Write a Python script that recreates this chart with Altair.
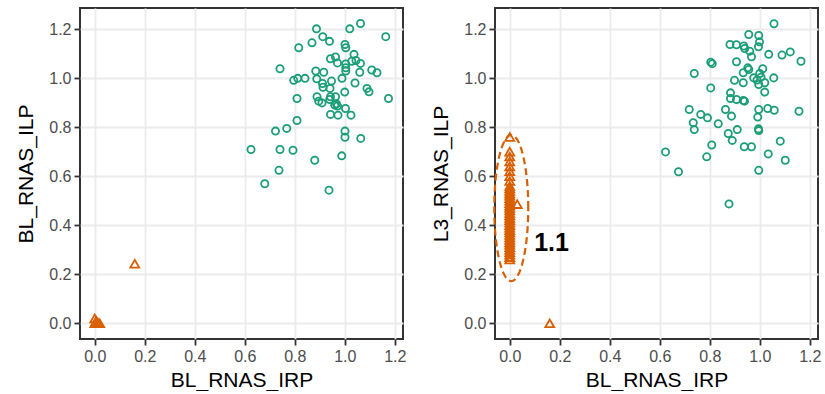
import altair as alt
import pandas as pd
import numpy as np

# ---------------- data ----------------
left_green_x = [0.887, 1.02, 1.063, 1.164, 0.912, 0.939, 0.869, 0.816, 1.001, 1.004,
                1.037, 0.943, 0.963, 0.971, 1.004, 1.004, 1.004, 1.028, 1.045, 1.063,
                1.06, 1.108, 1.129, 0.741, 0.884, 0.916, 0.989, 1.041, 0.888, 0.947,
                0.911, 0.913, 0.941, 0.841, 0.812, 0.796, 1.089, 1.097, 1.0, 1.175,
                0.809, 0.889, 0.896, 0.909, 0.94, 0.943, 0.963, 0.967, 0.96, 0.971,
                1.003, 0.943, 0.973, 1.025, 0.809, 0.768, 0.723, 1.001, 1.001, 1.064,
                0.625, 0.741, 0.793, 0.988, 0.88, 0.737, 0.68, 0.937]
left_green_y = [1.201, 1.201, 1.223, 1.169, 1.169, 1.150, 1.144, 1.124, 1.137, 1.124,
                1.097, 1.079, 1.086, 1.062, 1.058, 1.042, 1.029, 1.069, 1.072, 1.060,
                1.024, 1.033, 1.022, 1.038, 1.029, 1.024, 0.999, 0.980, 0.997, 0.988,
                0.978, 0.963, 0.958, 0.999, 0.999, 0.991, 0.958, 0.944, 0.943, 0.917,
                0.917, 0.924, 0.906, 0.899, 0.913, 0.924, 0.924, 0.895, 0.890, 0.886,
                0.876, 0.852, 0.849, 0.849, 0.827, 0.795, 0.784, 0.784, 0.759, 0.754,
                0.709, 0.709, 0.706, 0.683, 0.665, 0.624, 0.569, 0.543]

left_orange_x = [0.0, 0.0, 0.006, 0.02, 0.012, 0.16]
left_orange_y = [0.0, 0.02, 0.01, 0.0, 0.004, 0.243]

right_green_x = [1.057, 0.956, 0.996, 0.999, 0.881, 0.907, 0.936, 0.940, 0.995, 0.960,
                 1.036, 1.089, 1.122, 1.165, 0.967, 0.804, 0.810, 0.907, 0.738, 0.952,
                 0.956, 1.012, 0.934, 1.0, 1.056, 0.976, 0.989, 1.005, 0.899, 0.934,
                 0.996, 1.020, 0.804, 1.020, 0.883, 0.883, 0.907, 0.934, 0.939, 0.718,
                 0.764, 0.791, 0.863, 0.887, 0.996, 1.032, 1.058, 1.157, 0.992, 0.734,
                 0.738, 0.834, 0.874, 0.910, 0.995, 0.996, 0.890, 1.082, 0.808, 0.938,
                 0.967, 0.623, 1.034, 0.788, 1.102, 0.675, 0.996, 0.877]
right_green_y = [1.222, 1.178, 1.174, 1.148, 1.137, 1.136, 1.131, 1.121, 1.128, 1.110,
                 1.097, 1.094, 1.107, 1.069, 1.087, 1.065, 1.059, 1.067, 1.019, 1.042,
                 1.035, 1.038, 1.022, 1.019, 1.001, 1.001, 0.992, 1.004, 0.991, 0.981,
                 0.974, 0.981, 0.960, 0.943, 0.940, 0.917, 0.913, 0.909, 0.906, 0.872,
                 0.852, 0.838, 0.872, 0.845, 0.872, 0.876, 0.869, 0.865, 0.841, 0.818,
                 0.790, 0.814, 0.774, 0.790, 0.793, 0.786, 0.746, 0.743, 0.727, 0.720,
                 0.720, 0.699, 0.691, 0.679, 0.665, 0.618, 0.624, 0.487]

right_orange_x = [0.0] * 39 + [0.03, 0.16]
right_orange_y = [0.76, 0.70, 0.68, 0.66, 0.64, 0.62, 0.60, 0.58, 0.56, 0.55,
                  0.54, 0.53, 0.52, 0.51, 0.50, 0.49, 0.48, 0.47, 0.46, 0.45,
                  0.44, 0.43, 0.42, 0.41, 0.40, 0.39, 0.38, 0.37, 0.36, 0.35,
                  0.34, 0.33, 0.32, 0.31, 0.30, 0.29, 0.28, 0.27, 0.26,
                  0.486, 0.0]

ann_label = ["1.1"]
ann_x = [0.167]
ann_y = [0.327]

# dashed ellipse annotation (center / radii in data units)
ell_cx, ell_cy, ell_rx, ell_ry = 0.006, 0.47, 0.068, 0.298

tick_vals = [0.0, 0.2, 0.4, 0.6, 0.8, 1.0, 1.2]

# ---------------- style ----------------
GREEN = "#1b9e77"
ORANGE = "#d95f02"
FONT = "Liberation Sans"
X_DOM = [-0.059, 1.233]
Y_DOM = [-0.064, 1.286]
W, H = 323, 331

def axis(title, tpad):
    return alt.Axis(title=title, values=tick_vals, format=".1f", domain=False,
                    grid=True, gridColor="#ebebeb", gridWidth=1.8,
                    ticks=True, tickColor="#333333", tickWidth=1.8, tickSize=6,
                    labelColor="#4d4d4d", labelFont=FONT, labelFontSize=16,
                    labelPadding=3, titleFont=FONT, titleFontSize=21,
                    titleFontWeight="normal", titleColor="black", titlePadding=tpad)

def panel(gx, gy, ox, oy, ytitle, extra=None):
    g = pd.DataFrame({"x": gx, "y": gy})
    o = pd.DataFrame({"x": ox, "y": oy})
    xs = alt.Scale(domain=X_DOM, nice=False, zero=False)
    ys = alt.Scale(domain=Y_DOM, nice=False, zero=False)
    base_x = alt.X("x:Q", scale=xs, axis=axis("BL_RNAS_IRP", 5))
    base_y = alt.Y("y:Q", scale=ys, axis=axis(ytitle, 12))
    pts_g = alt.Chart(g).mark_point(shape="circle", filled=False, color=GREEN,
                                    size=52, strokeWidth=1.8, opacity=1).encode(x=base_x, y=base_y)
    pts_o = alt.Chart(o).mark_point(shape="triangle-up", filled=False, color=ORANGE,
                                    size=80, strokeWidth=1.8, opacity=1).encode(
        x=alt.X("x:Q", scale=xs), y=alt.Y("y:Q", scale=ys))
    layers = [pts_g, pts_o]
    if extra:
        layers += extra(xs, ys)
    return alt.layer(*layers).properties(width=W, height=H)

def extras(xs, ys):
    t = np.linspace(0, 2 * np.pi, 121)
    e = pd.DataFrame({"x": ell_cx + ell_rx * np.cos(t),
                      "y": ell_cy + ell_ry * np.sin(t),
                      "o": np.arange(len(t))})
    ell = alt.Chart(e).mark_line(color=ORANGE, strokeWidth=2.2,
                                 strokeDash=[7, 4], clip=False).encode(
        x=alt.X("x:Q", scale=xs), y=alt.Y("y:Q", scale=ys), order="o:Q")
    a = pd.DataFrame({"label": ann_label, "x": ann_x, "y": ann_y})
    txt = alt.Chart(a).mark_text(font=FONT, fontSize=25, fontWeight="bold",
                                 color="black", align="center", baseline="middle").encode(
        x=alt.X("x:Q", scale=xs), y=alt.Y("y:Q", scale=ys), text="label:N")
    return [ell, txt]

left = panel(left_green_x, left_green_y, left_orange_x, left_orange_y, "BL_RNAS_ILP")
right = panel(right_green_x, right_green_y, right_orange_x, right_orange_y, "L3_RNAS_ILP", extras)

chart = alt.hconcat(left, right, spacing=22).properties(
    padding={"left": 14, "top": 7, "right": 0, "bottom": 0},
    background="white",
).configure_view(stroke="#333333", strokeWidth=2)

chart.save("out.html", embed_options={"renderer": "svg", "actions": False})
